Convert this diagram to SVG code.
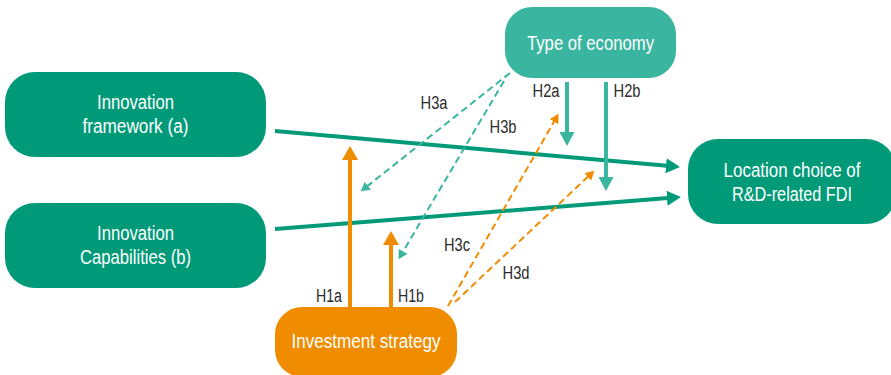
<svg xmlns="http://www.w3.org/2000/svg" width="891" height="375" viewBox="0 0 891 375">
<defs>
<style>
.nt{font-family:"Liberation Sans",Arial,sans-serif;font-size:20px;fill:#ffffff;text-anchor:middle}
.lb{font-family:"Liberation Sans",Arial,sans-serif;font-size:18px;fill:#2b2b2b;text-anchor:middle}
.dg{fill:#009a78}
.lt{fill:#3ab59f}
.or{fill:#f08c00}
.sg{stroke:#009a78;stroke-width:4;fill:none}
.st{stroke:#3ab59f;stroke-width:4;fill:none}
.so{stroke:#f08c00;stroke-width:4;fill:none}
.dt{stroke:#3ab59f;stroke-width:2;stroke-dasharray:7,4;fill:none}
.do{stroke:#f08c00;stroke-width:2;stroke-dasharray:7,4;fill:none}
</style>
<marker id="ag" markerUnits="userSpaceOnUse" markerWidth="15" markerHeight="15" refX="1" refY="7.5" orient="auto" viewBox="0 0 15 15"><path d="M0,0 L14,7.5 L0,15 z" fill="#009a78"/></marker>
<marker id="at" markerUnits="userSpaceOnUse" markerWidth="15" markerHeight="15" refX="1" refY="7.5" orient="auto" viewBox="0 0 15 15"><path d="M0,0 L14,7.5 L0,15 z" fill="#3ab59f"/></marker>
<marker id="ao" markerUnits="userSpaceOnUse" markerWidth="16" markerHeight="16" refX="1" refY="8" orient="auto" viewBox="0 0 16 16"><path d="M0,0 L14,8 L0,16 z" fill="#f08c00"/></marker>
<marker id="adt" markerUnits="userSpaceOnUse" markerWidth="10" markerHeight="10" refX="1" refY="5" orient="auto" viewBox="0 0 10 10"><path d="M0,0 L9,5 L0,10 z" fill="#3ab59f"/></marker>
<marker id="ado" markerUnits="userSpaceOnUse" markerWidth="10" markerHeight="10" refX="1" refY="5" orient="auto" viewBox="0 0 10 10"><path d="M0,0 L9,5 L0,10 z" fill="#f08c00"/></marker>
</defs>
<rect width="891" height="375" fill="#ffffff"/>
<g id="connectors">
<line class="sg" x1="275" y1="131" x2="667" y2="165.8" marker-end="url(#ag)"/>
<line class="sg" x1="275" y1="229" x2="668" y2="198.1" marker-end="url(#ag)"/>
<line class="st" x1="567" y1="82" x2="567" y2="133" marker-end="url(#at)"/>
<line class="st" x1="606" y1="82" x2="606" y2="178" marker-end="url(#at)"/>
<line class="so" x1="350" y1="307" x2="350" y2="159" marker-end="url(#ao)"/>
<line class="so" x1="391" y1="307" x2="391" y2="244" marker-end="url(#ao)"/>
<line class="dt" x1="510" y1="73" x2="367" y2="186.4" marker-end="url(#adt)"/>
<line class="dt" x1="504" y1="81" x2="402.6" y2="252.3" marker-end="url(#adt)"/>
<line class="do" x1="448" y1="306" x2="554.5" y2="120.8" marker-end="url(#ado)"/>
<line class="do" x1="455" y1="302" x2="588.5" y2="176.2" marker-end="url(#ado)"/>
<text class="lb" x="434" y="109" textLength="27" lengthAdjust="spacingAndGlyphs">H3a</text>
<text class="lb" x="503" y="133" textLength="27" lengthAdjust="spacingAndGlyphs">H3b</text>
<text class="lb" x="546" y="97" textLength="27" lengthAdjust="spacingAndGlyphs">H2a</text>
<text class="lb" x="627" y="97" textLength="27" lengthAdjust="spacingAndGlyphs">H2b</text>
<text class="lb" x="329" y="302" textLength="26" lengthAdjust="spacingAndGlyphs">H1a</text>
<text class="lb" x="411" y="302" textLength="26" lengthAdjust="spacingAndGlyphs">H1b</text>
<text class="lb" x="457" y="251" textLength="26" lengthAdjust="spacingAndGlyphs">H3c</text>
<text class="lb" x="516" y="279" textLength="27" lengthAdjust="spacingAndGlyphs">H3d</text>
</g>
<g id="node-framework">
<rect class="dg" x="5" y="72" width="261" height="85" rx="30"/>
<text class="nt" x="135.5" y="109" textLength="77" lengthAdjust="spacingAndGlyphs">Innovation</text>
<text class="nt" x="135.5" y="133" textLength="106" lengthAdjust="spacingAndGlyphs">framework (a)</text>
</g>
<g id="node-capabilities">
<rect class="dg" x="5" y="203" width="261" height="85" rx="30"/>
<text class="nt" x="135.5" y="240" textLength="77" lengthAdjust="spacingAndGlyphs">Innovation</text>
<text class="nt" x="135.5" y="264" textLength="111" lengthAdjust="spacingAndGlyphs">Capabilities (b)</text>
</g>
<g id="node-economy">
<rect class="lt" x="505" y="7" width="171" height="71" rx="27"/>
<text class="nt" x="590.5" y="50" textLength="127" lengthAdjust="spacingAndGlyphs">Type of economy</text>
</g>
<g id="node-location">
<rect class="dg" x="688" y="139" width="208" height="85" rx="30"/>
<text class="nt" x="792" y="177" textLength="137" lengthAdjust="spacingAndGlyphs">Location choice of</text>
<text class="nt" x="792" y="201" textLength="120" lengthAdjust="spacingAndGlyphs">R&amp;D-related FDI</text>
</g>
<g id="node-investment">
<rect class="or" x="275" y="307" width="182" height="70" rx="27"/>
<text class="nt" x="366" y="348" textLength="149" lengthAdjust="spacingAndGlyphs">Investment strategy</text>
</g>
</svg>
